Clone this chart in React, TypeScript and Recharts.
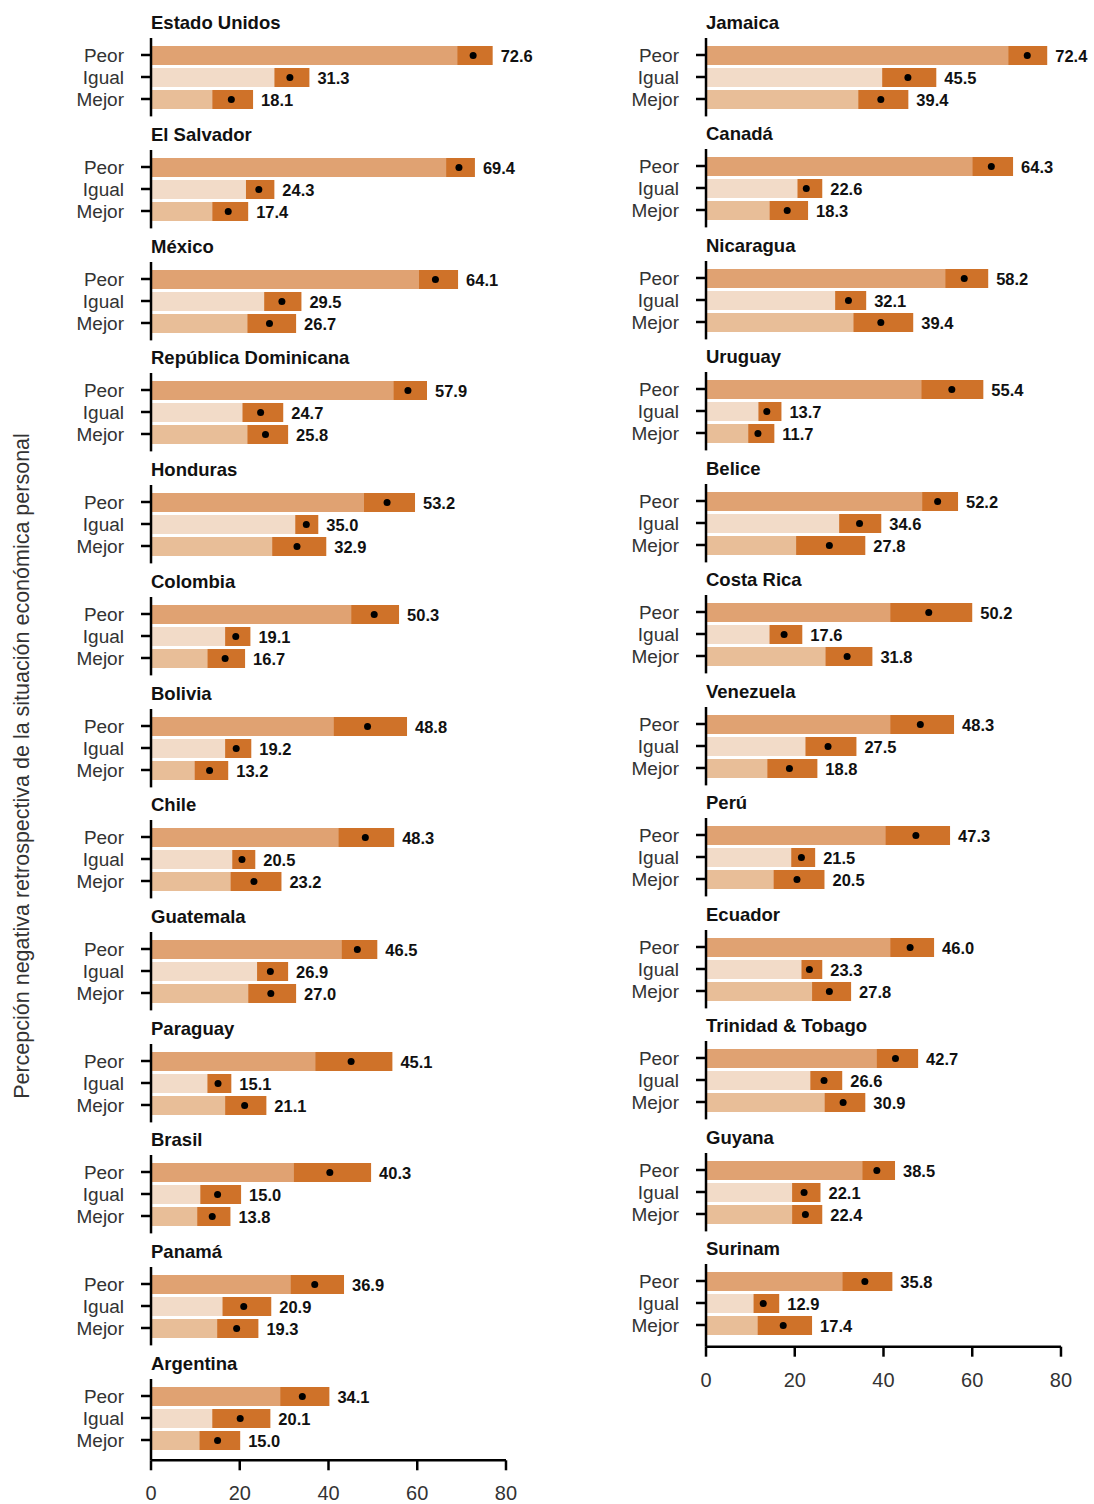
import React from 'react';
import { BarChart, Bar, XAxis, YAxis, Cell, LabelList } from 'recharts';

const categories = ['Peor', 'Igual', 'Mejor'];
const xTicks = [0, 20, 40, 60, 80];

const leftCountries = ['Estado Unidos', 'El Salvador', 'México', 'República Dominicana', 'Honduras', 'Colombia', 'Bolivia', 'Chile', 'Guatemala', 'Paraguay', 'Brasil', 'Panamá', 'Argentina'];
const leftEstimates = [[72.6, 31.3, 18.1], [69.4, 24.3, 17.4], [64.1, 29.5, 26.7], [57.9, 24.7, 25.8], [53.2, 35.0, 32.9], [50.3, 19.1, 16.7], [48.8, 19.2, 13.2], [48.3, 20.5, 23.2], [46.5, 26.9, 27.0], [45.1, 15.1, 21.1], [40.3, 15.0, 13.8], [36.9, 20.9, 19.3], [34.1, 20.1, 15.0]];
const leftLower = [[69.0, 27.8, 13.8], [66.5, 21.4, 13.8], [60.4, 25.5, 21.7], [54.6, 20.6, 21.7], [48.0, 32.5, 27.3], [45.1, 16.7, 12.7], [41.1, 16.7, 9.8], [42.2, 18.3, 17.9], [42.9, 23.9, 21.9], [37.0, 12.7, 16.7], [32.1, 11.1, 10.4], [31.4, 16.1, 14.9], [29.1, 13.8, 10.9]];
const leftUpper = [[77.0, 35.7, 23.0], [73.0, 27.8, 21.9], [69.2, 33.9, 32.7], [62.2, 29.8, 30.9], [59.5, 37.7, 39.5], [55.9, 22.4, 21.2], [57.7, 22.6, 17.4], [54.8, 23.5, 29.4], [51.0, 30.9, 32.7], [54.4, 18.1, 26.0], [49.6, 20.3, 17.9], [43.5, 27.1, 24.2], [40.2, 26.9, 20.1]];

const rightCountries = ['Jamaica', 'Canadá', 'Nicaragua', 'Uruguay', 'Belice', 'Costa Rica', 'Venezuela', 'Perú', 'Ecuador', 'Trinidad & Tobago', 'Guyana', 'Surinam'];
const rightEstimates = [[72.4, 45.5, 39.4], [64.3, 22.6, 18.3], [58.2, 32.1, 39.4], [55.4, 13.7, 11.7], [52.2, 34.6, 27.8], [50.2, 17.6, 31.8], [48.3, 27.5, 18.8], [47.3, 21.5, 20.5], [46.0, 23.3, 27.8], [42.7, 26.6, 30.9], [38.5, 22.1, 22.4], [35.8, 12.9, 17.4]];
const rightLower = [[68.1, 39.7, 34.3], [60.0, 20.6, 14.3], [53.9, 29.1, 33.2], [48.5, 11.8, 9.5], [48.7, 30.0, 20.3], [41.5, 14.3, 26.9], [41.5, 22.4, 13.8], [40.4, 19.2, 15.2], [41.5, 21.5, 23.9], [38.4, 23.5, 26.7], [35.2, 19.4, 19.4], [30.7, 10.7, 11.6]];
const rightUpper = [[76.9, 51.9, 45.6], [69.2, 26.2, 23.0], [63.6, 36.1, 46.7], [62.5, 17.0, 15.4], [56.8, 39.5, 35.9], [60.0, 21.7, 37.5], [55.9, 33.9, 25.1], [55.0, 24.6, 26.7], [51.4, 26.2, 32.7], [47.8, 30.7, 35.9], [42.6, 25.8, 26.2], [42.0, 16.5, 23.9]];

const baseColors = ['#E0A272', '#F2DBC8', '#E8BE98'];
const ciColor = '#CF7229';
const FONT = '"Liberation Sans", Arial, Helvetica, sans-serif';

const CiShape = (props: any) => {
  const { x, y, width, height } = props;
  const p = props.payload ?? props;
  const cx = x + (width * (p.est - p.lo)) / (p.hi - p.lo);
  return (
    <g>
      <rect x={x} y={y} width={width} height={height} fill={ciColor} />
      <circle cx={cx} cy={y + height / 2} r={3.5} fill="#000" />
    </g>
  );
};

function Panel({ title, est, lo, hi, left, axisTop, plotHeight, isLast, marginRight }: any) {
  const data = categories.map((cat, i) => ({
    cat,
    lo: lo[i],
    span: hi[i] - lo[i],
    hi: hi[i],
    est: est[i],
  }));
  const mTop = 10;
  const mBottom = isLast ? 0 : 10;
  const xAxisH = isLast ? 50 : 0;
  const padBottom = plotHeight - 6 - 66;
  const width = 151 + 355 + marginRight;

  const valueLabel = (p: any) => {
    const vb = p.viewBox ?? p;
    const v = p.index != null ? est[p.index] : p.value;
    return (
      <text x={vb.x + vb.width + 8} y={vb.y + vb.height / 2} dy="0.38em" fontSize={16.5} fontWeight={700} fill="#111">
        {Number(v).toFixed(1)}
      </text>
    );
  };

  return (
    <>
      <div
        style={{
          position: 'absolute',
          left: left + 151,
          top: axisTop - 26,
          fontSize: 18.5,
          lineHeight: '22px',
          fontWeight: 700,
          color: '#111',
          whiteSpace: 'nowrap',
        }}
      >
        {title}
      </div>
      <div style={{ position: 'absolute', left, top: axisTop - mTop }}>
        <BarChart
          layout="vertical"
          width={width}
          height={mTop + plotHeight + mBottom + xAxisH}
          data={data}
          margin={{ top: mTop, right: marginRight, bottom: mBottom, left: 0 }}
          barSize={19}
        >
          <XAxis
            type="number"
            domain={[0, 80]}
            ticks={xTicks}
            hide={!isLast}
            height={xAxisH || 30}
            tickSize={10}
            tickMargin={16}
            axisLine={{ stroke: '#000', strokeWidth: 2.5 }}
            tickLine={{ stroke: '#000', strokeWidth: 2.5 }}
            tick={{ fill: '#333', fontSize: 20 }}
          />
          <YAxis
            type="category"
            dataKey="cat"
            width={151}
            interval={0}
            padding={{ top: 6, bottom: padBottom }}
            tickSize={10}
            tickMargin={17}
            axisLine={{ stroke: '#000', strokeWidth: 2.5 }}
            tickLine={{ stroke: '#000', strokeWidth: 2.5 }}
            tick={{ fill: '#333', fontSize: 19 }}
          />
          <Bar dataKey="lo" stackId="s" isAnimationActive={false}>
            {data.map((d, i) => (
              <Cell key={d.cat} fill={baseColors[i]} />
            ))}
          </Bar>
          <Bar dataKey="span" stackId="s" fill={ciColor} shape={CiShape} isAnimationActive={false}>
            <LabelList dataKey="est" content={valueLabel} />
          </Bar>
        </BarChart>
      </div>
    </>
  );
}

export default function App() {
  const leftStep = 111.7;
  const leftTop0 = 38.3;
  const leftXAxisY = 1460;
  const rightStep = 111.5;
  const rightTop0 = 37.5;
  const rightXAxisY = 1346.7;

  return (
    <div
      style={{
        position: 'absolute',
        left: 0,
        top: 0,
        width: 1094,
        height: 1504,
        background: '#fff',
        fontFamily: FONT,
        overflow: 'hidden',
      }}
    >
      <style>{'.recharts-surface{overflow:visible}'}</style>
      <div
        style={{
          position: 'absolute',
          left: 22,
          top: 766,
          transform: 'translate(-50%, -50%) rotate(-90deg)',
          whiteSpace: 'nowrap',
          fontSize: 21.5,
          color: '#333',
        }}
      >
        Percepción negativa retrospectiva de la situación económica personal
      </div>
      {leftCountries.map((c, i) => {
        const axisTop = leftTop0 + i * leftStep;
        const isLast = i === leftCountries.length - 1;
        return (
          <Panel
            key={c}
            title={c}
            est={leftEstimates[i]}
            lo={leftLower[i]}
            hi={leftUpper[i]}
            left={0}
            axisTop={axisTop}
            plotHeight={isLast ? leftXAxisY - axisTop : 78.4}
            isLast={isLast}
            marginRight={50}
          />
        );
      })}
      {rightCountries.map((c, i) => {
        const axisTop = rightTop0 + i * rightStep;
        const isLast = i === rightCountries.length - 1;
        return (
          <Panel
            key={c}
            title={c}
            est={rightEstimates[i]}
            lo={rightLower[i]}
            hi={rightUpper[i]}
            left={555}
            axisTop={axisTop}
            plotHeight={isLast ? rightXAxisY - axisTop : 78.4}
            isLast={isLast}
            marginRight={33}
          />
        );
      })}
    </div>
  );
}
